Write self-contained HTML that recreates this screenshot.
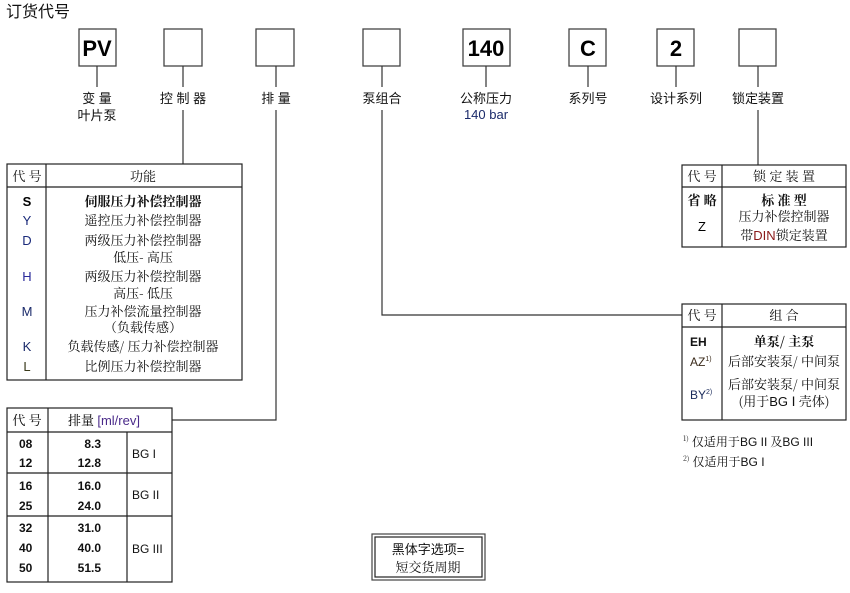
<!DOCTYPE html>
<html><head><meta charset="utf-8"><style>
html,body{margin:0;padding:0;background:#fff;}
svg{display:block;font-family:"Liberation Sans","Noto Sans CJK SC",sans-serif;}
.s{font-family:"Noto Serif CJK SC","Liberation Serif",serif;}
</style></head><body>
<svg width="850" height="593" viewBox="0 0 850 593" xmlns="http://www.w3.org/2000/svg">
<g fill="none" stroke="#444" stroke-width="1.3">
<rect x="79" y="29" width="37" height="37"/>
<rect x="164" y="29" width="38" height="37"/>
<rect x="256" y="29" width="38" height="37"/>
<rect x="363" y="29" width="37" height="37"/>
<rect x="463" y="29" width="47" height="37"/>
<rect x="569" y="29" width="37" height="37"/>
<rect x="657" y="29" width="37" height="37"/>
<rect x="739" y="29" width="37" height="37"/>
</g>
<g stroke="#333" stroke-width="1.2" fill="none">
<line x1="97" y1="66" x2="97" y2="87"/>
<line x1="183" y1="66" x2="183" y2="87"/>
<line x1="276" y1="66" x2="276" y2="87"/>
<line x1="382" y1="66" x2="382" y2="87"/>
<line x1="486" y1="66" x2="486" y2="87"/>
<line x1="588" y1="66" x2="588" y2="87"/>
<line x1="676" y1="66" x2="676" y2="87"/>
<line x1="758" y1="66" x2="758" y2="87"/>
<line x1="183" y1="110" x2="183" y2="164"/>
<polyline points="276,110 276,420 172,420"/>
<polyline points="382,110 382,315 682,315"/>
<line x1="758" y1="110" x2="758" y2="165"/>
</g>
<text x="6" y="17" font-size="16" fill="#111">订货代号</text>
<g font-size="22" font-weight="bold" text-anchor="middle" fill="#000">
<text x="97" y="56">PV</text><text x="486" y="56">140</text><text x="588" y="56">C</text><text x="676" y="56">2</text>
</g>
<g font-size="13" text-anchor="middle" fill="#111">
<text x="97" y="103">变 量</text><text x="97" y="120">叶片泵</text>
<text x="183" y="103">控 制 器</text><text x="276" y="103">排 量</text><text x="382" y="103">泵组合</text>
<text x="486" y="103">公称压力</text><text x="486" y="119" fill="#1a2a6a">140 bar</text>
<text x="588" y="103">系列号</text><text x="676" y="103">设计系列</text><text x="758" y="103">锁定装置</text>
</g>
<!-- function table -->
<g fill="none" stroke="#222" stroke-width="1.2">
<rect x="7" y="164" width="235" height="216"/>
<line x1="46" y1="164" x2="46" y2="380"/><line x1="7" y1="187" x2="242" y2="187"/>
</g>
<g font-size="13" text-anchor="middle" class="s" fill="#111">
<text x="27" y="181">代 号</text><text x="143" y="181">功能</text>
<text x="143" y="206" font-weight="bold">伺服压力补偿控制器</text>
<text x="143" y="225">遥控压力补偿控制器</text>
<text x="143" y="245">两级压力补偿控制器</text><text x="143" y="262">低压- 高压</text>
<text x="143" y="281">两级压力补偿控制器</text><text x="143" y="298">高压- 低压</text>
<text x="143" y="316">压力补偿流量控制器</text><text x="143" y="332">（负载传感）</text>
<text x="143" y="351">负载传感/ 压力补偿控制器</text>
<text x="143" y="371">比例压力补偿控制器</text>
</g>
<g font-size="13" text-anchor="middle">
<text x="27" y="206" font-weight="bold">S</text><text x="27" y="225" fill="#1a2a7a">Y</text>
<text x="27" y="245" fill="#1a2a7a">D</text><text x="27" y="281" fill="#2a2a9a">H</text>
<text x="27" y="316" fill="#1a2a6a">M</text><text x="27" y="351" fill="#1a2a6a">K</text><text x="27" y="371" fill="#3a3a1a">L</text>
</g>
<!-- displacement table -->
<g fill="none" stroke="#222" stroke-width="1.2">
<rect x="7" y="408" width="165" height="174"/>
<line x1="48" y1="408" x2="48" y2="582"/><line x1="127" y1="432" x2="127" y2="582"/>
<line x1="7" y1="432" x2="172" y2="432"/><line x1="7" y1="473" x2="172" y2="473"/><line x1="7" y1="516" x2="172" y2="516"/>
</g>
<text x="27" y="425" font-size="13" text-anchor="middle" class="s">代 号</text>
<text x="68" y="425" font-size="13" class="s">排量 <tspan fill="#4a2a8a" font-family="Liberation Sans">[ml/rev]</tspan></text>
<g font-size="12" font-weight="bold" fill="#111">
<g text-anchor="start"><text x="19" y="448">08</text><text x="19" y="467">12</text><text x="19" y="490">16</text><text x="19" y="510">25</text><text x="19" y="532">32</text><text x="19" y="552">40</text><text x="19" y="572">50</text></g>
<g text-anchor="end"><text x="101" y="448">8.3</text><text x="101" y="467">12.8</text><text x="101" y="490">16.0</text><text x="101" y="510">24.0</text><text x="101" y="532">31.0</text><text x="101" y="552">40.0</text><text x="101" y="572">51.5</text></g>
</g>
<g font-size="12" fill="#111"><text x="132" y="458">BG I</text><text x="132" y="499">BG II</text><text x="132" y="553">BG III</text></g>
<!-- lock table -->
<g fill="none" stroke="#222" stroke-width="1.2">
<rect x="682" y="165" width="164" height="82"/>
<line x1="722" y1="165" x2="722" y2="247"/><line x1="682" y1="187" x2="846" y2="187"/>
</g>
<g font-size="13" text-anchor="middle" class="s" fill="#111">
<text x="702" y="181">代 号</text><text x="784" y="181">锁 定 装 置</text>
<text x="702" y="205" font-weight="bold">省 略</text><text x="784" y="205" font-weight="bold">标 准 型</text>
<text x="784" y="221">压力补偿控制器</text><text x="784" y="240">带<tspan fill="#8a1a1a" font-family="Liberation Sans">DIN</tspan>锁定装置</text>
</g>
<text x="702" y="231" font-size="13" text-anchor="middle">Z</text>
<!-- combination table -->
<g fill="none" stroke="#222" stroke-width="1.2">
<rect x="682" y="304" width="164" height="116"/>
<line x1="722" y1="304" x2="722" y2="420"/><line x1="682" y1="327" x2="846" y2="327"/>
</g>
<g font-size="13" text-anchor="middle" class="s" fill="#111">
<text x="702" y="320">代 号</text><text x="784" y="320">组 合</text>
<text x="784" y="346" font-weight="bold">单泵/ 主泵</text>
<text x="784" y="366">后部安装泵/ 中间泵</text>
<text x="784" y="389">后部安装泵/ 中间泵</text>
<text x="784" y="406">(用于<tspan font-family="Liberation Sans">BG Ⅰ</tspan> 壳体)</text>
</g>
<g font-size="12" fill="#111">
<text x="690" y="346" font-weight="bold">EH</text>
<text x="690" y="366" fill="#3a2a1a">AZ<tspan font-size="7" dy="-5">1)</tspan></text>
<text x="690" y="399" fill="#1a2a5a">BY<tspan font-size="7" dy="-5">2)</tspan></text>
</g>
<g font-size="12" class="s" fill="#111">
<text x="683" y="446"><tspan font-size="7" dy="-5">1)</tspan><tspan dy="5"> 仅适用于</tspan><tspan font-family="Liberation Sans">BG II</tspan> 及<tspan font-family="Liberation Sans">BG III</tspan></text>
<text x="683" y="466"><tspan font-size="7" dy="-5">2)</tspan><tspan dy="5"> 仅适用于</tspan><tspan font-family="Liberation Sans">BG I</tspan></text>
</g>
<!-- legend box -->
<rect x="372" y="534" width="113" height="46" fill="none" stroke="#444" stroke-width="1.2"/>
<rect x="375" y="537" width="107" height="40" fill="none" stroke="#222" stroke-width="1.2"/>
<text x="428" y="554" font-size="13" text-anchor="middle" fill="#111">黑体字选项=</text>
<text x="428" y="572" font-size="13" text-anchor="middle" class="s" fill="#111">短交货周期</text>
</svg>
</body></html>
